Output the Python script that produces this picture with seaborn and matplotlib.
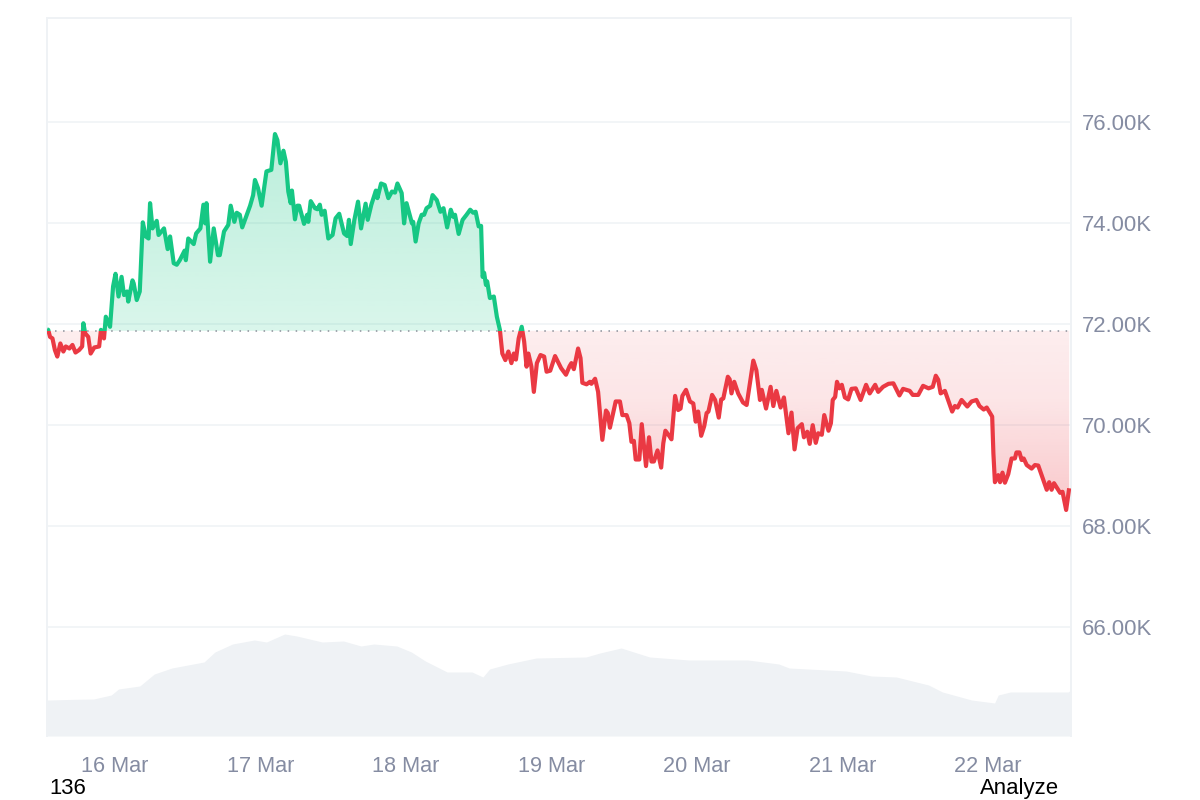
import numpy as np
import pandas as pd
import matplotlib
matplotlib.use("Agg")
import matplotlib.pyplot as plt
from matplotlib.colors import to_rgb
from matplotlib.patches import PathPatch, Rectangle
from matplotlib.path import Path
import seaborn as sns

# hours since 16 Mar 00:00
hours = [-11.2,-11.0,-10.7,-10.3,-9.9,-9.5,-9.0,-8.5,-8.1,-7.5,-7.0,-6.5,-5.9,-5.4,-5.2,-4.9,-4.4,-4.0,-3.4,-2.6,-2.3,-1.8,-1.5,-0.8,-0.3,
 0.1,0.6,1.1,1.5,2.0,2.2,2.9,3.1,3.6,4.1,4.6,5.1,5.55,5.8,6.2,6.9,7.2,8.1,8.7,9.1,9.7,10.2,10.7,11.5,11.7,12.1,13.0,13.4,14.1,14.6,14.9,15.1,15.7,16.3,17.0,17.3,18.0,18.7,19.1,19.7,20.1,20.6,21.0,22.3,22.8,23.1,23.6,24.2,25.0,25.8,26.4,26.8,27.3,27.8,28.2,
 28.6,29.0,29.2,29.7,30.1,30.4,31.2,31.7,31.9,32.3,33.0,33.4,33.8,34.1,34.6,35.2,35.9,36.4,37.0,37.8,38.3,38.6,38.9,39.5,40.1,40.6,41.35,41.7,42.3,43.05,43.3,43.9,44.5,45.1,45.7,46.2,46.6,47.3,47.7,48.1,49.0,49.2,49.6,50.1,50.6,51.0,51.4,52.0,52.4,53.1,53.7,54.2,54.8,55.4,55.8,56.1,56.7,57.35,58.0,58.6,59.1,59.5,60.0,60.4,60.65,60.9,61.2,61.4,61.85,62.5,63.0,63.5,
 63.9,64.4,64.9,65.4,65.8,66.15,66.6,67.1,67.5,67.9,68.2,68.7,69.1,69.6,70.2,70.8,71.2,71.8,72.6,73.6,74.4,75.0,75.3,75.7,76.4,76.8,77.1,77.8,78.35,78.6,79.2,79.7,80.4,81.0,81.3,81.65,82.6,83.3,83.7,84.4,84.85,85.2,85.6,85.9,86.5,86.9,87.6,88.1,88.5,88.9,89.5,90.1,90.45,90.8,91.3,91.8,92.4,92.9,93.3,93.6,94.2,94.85,95.4,95.8,96.2,96.7,97.2,97.6,97.9,98.5,99.0,99.6,100.0,100.35,101.1,
 101.4,101.7,102.15,102.8,103.6,104.2,105.3,105.8,106.4,106.7,107.4,108.15,108.6,109.1,109.8,110.35,111.1,111.6,112.1,112.6,113.3,113.65,114.2,114.6,115.1,115.6,116.0,116.6,117.0,117.7,118.1,118.4,118.8,119.1,119.5,119.9,120.4,120.95,121.5,122.2,123.0,123.9,124.5,125.4,125.9,126.7,127.6,128.4,129.4,130.0,131.1,131.6,132.5,133.3,134.2,134.9,135.4,135.8,136.2,136.9,138.1,138.55,139.0,139.65,140.6,141.3,142.1,142.6,143.3,143.8,144.7,144.9,145.15,145.7,146.0,146.4,146.8,147.35,147.9,148.45,148.7,149.2,149.55,149.9,150.4,151.2,151.75,152.3,153.7,154.1,154.5,154.9,155.9,156.3,156.9,157.4]
# price in thousands
prices = [71.90,71.89,71.75,71.72,71.49,71.36,71.62,71.46,71.56,71.52,71.59,71.44,71.49,71.56,72.02,71.82,71.75,71.42,71.54,71.56,71.89,71.72,72.15,71.95,72.75,
 73.00,72.55,72.94,72.58,72.65,72.45,72.87,72.81,72.48,72.65,74.02,73.74,73.70,74.40,73.90,74.05,73.77,73.90,73.49,73.74,73.21,73.18,73.27,73.46,73.27,73.70,73.59,73.80,73.90,74.37,74.00,74.40,73.24,73.90,73.37,73.37,73.84,73.97,74.35,74.03,74.21,74.17,73.92,74.35,74.56,74.86,74.70,74.35,75.03,75.06,75.77,75.65,75.19,75.44,75.22,
 74.63,74.40,74.65,74.08,74.35,74.35,73.99,74.17,74.03,74.44,74.30,74.28,74.37,74.17,74.25,73.70,73.77,74.10,74.19,73.80,73.75,74.07,73.59,74.07,74.43,73.90,74.39,74.07,74.37,74.65,74.50,74.79,74.76,74.50,74.63,74.61,74.79,74.60,74.00,74.40,74.00,74.03,73.64,74.00,74.17,74.17,74.30,74.35,74.56,74.46,74.23,74.30,73.92,74.27,74.13,74.17,73.79,74.07,74.17,74.27,74.21,74.23,73.94,73.95,72.94,73.02,72.78,72.85,72.52,72.55,72.15,71.89,
 71.42,71.29,71.46,71.23,71.42,71.30,71.72,71.95,71.66,71.16,71.42,71.16,70.66,71.23,71.39,71.36,71.06,71.08,71.37,71.13,71.00,71.17,71.23,71.11,71.52,71.33,70.84,70.81,70.86,70.82,70.92,70.66,69.71,70.29,70.24,69.95,70.47,70.47,70.20,70.20,70.04,69.67,69.69,69.32,69.32,70.02,69.19,69.76,69.28,69.28,69.50,69.16,69.64,69.89,69.81,69.72,70.58,70.30,70.33,70.58,70.70,70.47,70.43,70.07,70.27,69.79,69.98,70.24,70.27,70.60,70.50,70.15,70.51,70.53,70.96,
 70.91,70.63,70.86,70.63,70.45,70.40,71.28,71.09,70.50,70.70,70.33,70.76,70.38,70.68,70.35,70.55,69.84,70.25,69.52,69.94,70.02,69.76,69.87,69.63,70.00,69.65,69.84,69.81,70.20,69.89,70.04,70.50,70.56,70.86,70.73,70.80,70.55,70.51,70.72,70.73,70.50,70.80,70.63,70.80,70.66,70.76,70.82,70.83,70.59,70.72,70.68,70.60,70.60,70.78,70.73,70.76,70.98,70.90,70.63,70.68,70.27,70.38,70.35,70.50,70.37,70.47,70.50,70.38,70.31,70.35,70.17,69.44,68.87,69.01,68.87,69.06,68.86,69.03,69.34,69.34,69.46,69.46,69.31,69.34,69.21,69.14,69.21,69.20,68.72,68.87,68.72,68.85,68.66,68.68,68.32,68.75]

vol_hours = [-11.2,-10.9,-6.5,-3.5,-0.6,0.6,4.1,6.5,9.4,14.7,16.5,19.4,23.0,25.0,28.0,30.0,34.2,37.7,40.6,42.7,46.5,48.9,51.2,54.8,58.9,60.7,61.8,64.8,69.5,77.7,
 80.0,83.5,88.2,94.7,104.4,109.5,111.2,120.6,124.8,128.9,134.2,136.5,141.3,145.1,145.7,147.7,157.2,157.7]
vol_values = [36,36,36.7,37,41,47,50,62,68,74,84,92,96,94,102,100,94,95,90,92,90,84,75,64,64,59,67,72,78,79,
 83,88,79,76,76,72,68,65,60,59,51,44,36,33,41,44,44,46]

baseline = 71.87
y_ticks = [66, 68, 70, 72, 74, 76]
y_labels = ["66.00K", "68.00K", "70.00K", "72.00K", "74.00K", "76.00K"]
x_ticks = [0, 24, 48, 72, 96, 120, 144]
x_labels = ["16 Mar", "17 Mar", "18 Mar", "19 Mar", "20 Mar", "21 Mar", "22 Mar"]

GREEN, RED, GRID, VOL, TXT = "#16c784", "#ea3943", "#eff2f5", "#eff2f5", "#858ca2"
FONT = "Liberation Sans"

sns.set_theme(style="white")
plt.rcParams["font.family"] = [FONT, "DejaVu Sans"]

df = pd.DataFrame({"hours": hours, "price": prices})
vol = pd.DataFrame({"hours": vol_hours, "volume": vol_values})

fig = plt.figure(figsize=(12, 8), dpi=100, facecolor="white")
rect = [47 / 1200, 1 - 736 / 800, (1071 - 47) / 1200, (736 - 18) / 800]
XLIM = (-11.2, 157.7)
YLIM = (63.84, 78.07)

ax_vol = fig.add_axes(rect, zorder=0)
ax_vol.fill_between(vol["hours"], vol["volume"], 0, color=VOL, lw=0)
ax_vol.set_xlim(XLIM)
ax_vol.set_ylim(0, 718)
ax_vol.axis("off")

ax = fig.add_axes(rect, zorder=1)
ax.patch.set_visible(False)
ax.yaxis.grid(True, color=GRID, lw=1.1, zorder=0)
ax.xaxis.grid(False)
ax.set_axisbelow(True)


def gradient(axis, above, color, stops_p, stops_a):
    x = df["hours"].to_numpy()
    y = df["price"].to_numpy()
    where = y >= baseline if above else y <= baseline
    coll = axis.fill_between(x, y, baseline, where=where, interpolate=True, color="none", lw=0)
    path = Path.make_compound_path(*coll.get_paths())
    patch = PathPatch(path, transform=axis.transData, fc="none", ec="none")
    axis.add_patch(patch)
    ps = np.linspace(YLIM[1], YLIM[0], 400)
    rgba = np.zeros((400, 1, 4))
    rgba[..., :3] = to_rgb(color)
    rgba[:, 0, 3] = np.interp(ps, stops_p, stops_a)
    im = axis.imshow(rgba, extent=(XLIM[0], XLIM[1], YLIM[0], YLIM[1]), aspect="auto", zorder=1.5, interpolation="bilinear")
    im.set_clip_path(patch)


gradient(ax, True, GREEN, [71.87, 76.0], [0.16, 0.30])
gradient(ax, False, RED, [68.3, 69.5, 70.5, 71.87], [0.28, 0.20, 0.13, 0.09])

ax.axhline(baseline, color="#8a8f99", lw=1.1, ls=(0, (1.0, 4.25)), zorder=2)

sns.lineplot(data=df, x="hours", y="price", ax=ax, color=GREEN, lw=3.0, estimator=None, sort=False, zorder=3)
green_line = ax.lines[-1]
sns.lineplot(data=df, x="hours", y="price", ax=ax, color=RED, lw=3.0, estimator=None, sort=False, zorder=3)
red_line = ax.lines[-1]
for ln, (lo, hi) in ((green_line, (baseline, YLIM[1])), (red_line, (YLIM[0], baseline))):
    ln.set_solid_joinstyle("round")
    ln.set_solid_capstyle("butt")
    clip = Rectangle((XLIM[0], lo), XLIM[1] - XLIM[0], hi - lo, transform=ax.transData)
    ln.set_clip_path(clip)

ax.set_xlim(XLIM)
ax.set_ylim(YLIM)
ax.set_xlabel("")
ax.set_ylabel("")
ax.set_xticks(x_ticks, x_labels)
ax.yaxis.tick_right()
ax.set_yticks(y_ticks, y_labels)
ax.tick_params(axis="x", length=0, pad=14.5, labelsize=15.6, labelcolor=TXT)
ax.tick_params(axis="y", length=0, pad=8, labelsize=15.9, labelcolor=TXT)

for name in ("left", "top", "right"):
    ax.spines[name].set_visible(True)
    ax.spines[name].set_color(GRID)
    ax.spines[name].set_linewidth(1.4)
ax.spines["bottom"].set_visible(False)

fig.text(49 / 1200, 1 - 794.5 / 800, "136", fontsize=15.9, color="black", ha="left", va="baseline")
fig.text(980 / 1200, 1 - 794 / 800, "Analyze", fontsize=15.9, color="black", ha="left", va="baseline")

fig.savefig("out.png", dpi=100)
